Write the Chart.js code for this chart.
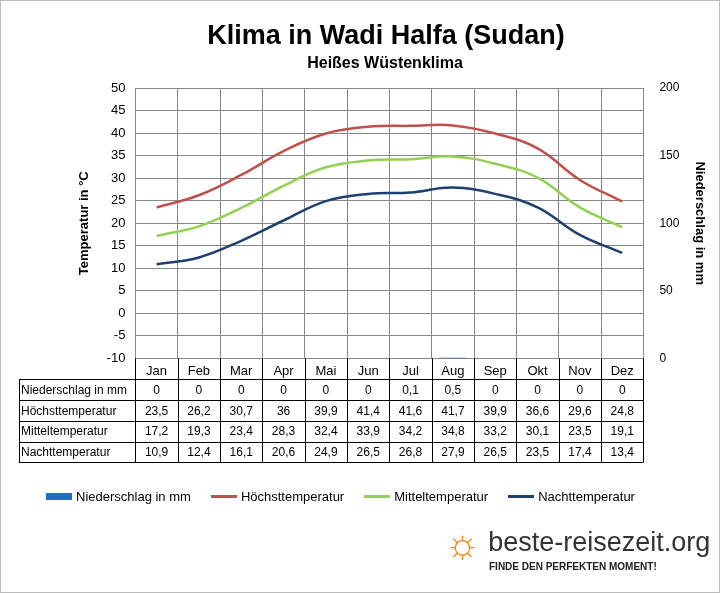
<!DOCTYPE html>
<html><head><meta charset="utf-8">
<script src="https://cdn.jsdelivr.net/npm/chart.js@4"></script>
<style>
body{margin:0;background:#fff;font-family:"Liberation Sans",Arial,sans-serif;}
#wrap{position:relative;width:720px;height:593px;border:1px solid #bbb;box-sizing:border-box;}
canvas{position:absolute;left:0;top:0;}
h1{position:absolute;top:19px;left:0;width:770px;margin:0;text-align:center;font-size:27px;font-weight:bold}
h2{position:absolute;top:53px;left:0;width:768px;margin:0;text-align:center;font-size:16px;font-weight:bold}
#legend{position:absolute;top:488px;left:45px;font-size:13px;display:flex;gap:0}
#legend span{display:inline-flex;align-items:center;margin-right:20px}
#legend i{display:inline-block;width:26px;margin-right:4px}
#logo{position:absolute;left:443px;top:520px;font-size:27px;color:#333;white-space:nowrap}
#slog{position:absolute;left:488px;top:560px;font-size:10px;font-weight:bold;color:#222;white-space:nowrap}
</style></head><body>
<div id="wrap">
<canvas id="c" width="720" height="593"></canvas>
<h1>Klima in Wadi Halfa (Sudan)</h1>
<h2>Heißes Wüstenklima</h2>
<div id="legend">
<span><i style="height:7px;background:#1f6fc5"></i>Niederschlag in mm</span>
<span><i style="height:3px;background:#c0504d"></i>Höchsttemperatur</span>
<span><i style="height:3px;background:#92d050"></i>Mitteltemperatur</span>
<span><i style="height:3px;background:#1f3f6e"></i>Nachttemperatur</span>
</div>
<div id="logo"><span style="color:#f08a24;font-size:40px;vertical-align:-6px">☼</span> beste-reisezeit.org</div>
<div id="slog">FINDE DEN PERFEKTEN MOMENT!</div>
</div>
<script>
const months = ['Jan','Feb','Mar','Apr','Mai','Jun','Jul','Aug','Sep','Okt','Nov','Dez'];
const rain = [0,0,0,0,0,0,0.1,0.5,0,0,0,0];
const tmax = [23.5,26.2,30.7,36,39.9,41.4,41.6,41.7,39.9,36.6,29.6,24.8];
const tmean = [17.2,19.3,23.4,28.3,32.4,33.9,34.2,34.8,33.2,30.1,23.5,19.1];
const tmin = [10.9,12.4,16.1,20.6,24.9,26.5,26.8,27.9,26.5,23.5,17.4,13.4];
const rows = [['Niederschlag in mm',rain],['Höchsttemperatur',tmax],['Mitteltemperatur',tmean],['Nachttemperatur',tmin]];
const fmt = v => String(v).replace('.',',');

const tablePlugin = {
  id:'table',
  afterDraw(chart){
    const ctx = chart.ctx, x = chart.scales.x, a = chart.chartArea;
    const left = 18, rh = 20.7, top = a.bottom + 21;
    const w = (a.right - a.left) / 12;
    ctx.save();
    ctx.strokeStyle = '#000'; ctx.lineWidth = 1;
    ctx.font = '12px "Liberation Sans", Arial'; ctx.fillStyle = '#000';
    for (let i = 0; i <= 12; i++) {
      const xx = Math.round(a.left + i * w) + 0.5;
      ctx.beginPath(); ctx.moveTo(xx, a.bottom); ctx.lineTo(xx, top + rh * 4); ctx.stroke();
    }
    ctx.beginPath(); ctx.moveTo(left + 0.5, top); ctx.lineTo(left + 0.5, top + rh * 4); ctx.stroke();
    for (let r = 0; r <= 4; r++) {
      const yy = Math.round(top + r * rh) + 0.5;
      ctx.beginPath(); ctx.moveTo(left, yy); ctx.lineTo(a.right, yy); ctx.stroke();
    }
    rows.forEach((row, r) => {
      const cy = top + r * rh + rh / 2 + 1;
      ctx.textAlign = 'left'; ctx.textBaseline = 'middle';
      ctx.fillText(row[0], left + 2, cy);
      ctx.textAlign = 'center';
      row[1].forEach((v, i) => ctx.fillText(fmt(v), x.getPixelForValue(i), cy));
    });
    ctx.restore();
  }
};

new Chart(document.getElementById('c'), {
  data: {
    labels: months,
    datasets: [
      {type:'bar', label:'Niederschlag in mm', data: rain, yAxisID:'y1', backgroundColor:'#1f6fc5', barPercentage:0.8, order:4},
      {type:'line', label:'Höchsttemperatur', data: tmax, borderColor:'#c0504d', borderWidth:2.5, pointRadius:0, tension:0.4, yAxisID:'y'},
      {type:'line', label:'Mitteltemperatur', data: tmean, borderColor:'#92d050', borderWidth:2.5, pointRadius:0, tension:0.4, yAxisID:'y'},
      {type:'line', label:'Nachttemperatur', data: tmin, borderColor:'#1f3f6e', borderWidth:2.5, pointRadius:0, tension:0.4, yAxisID:'y'}
    ]
  },
  options: {
    responsive:false, animation:false,
    layout:{padding:{left:72, right:10, top:87, bottom:210}},
    plugins:{legend:{display:false}, tooltip:{enabled:false}},
    scales:{
      x:{offset:true, grid:{offset:true, color:'#888', drawTicks:false}, border:{color:'#888'},
         ticks:{color:'#000', font:{size:13, family:'Liberation Sans'}, padding:5}},
      y:{min:-10, max:50, position:'left', grid:{color:'#888', drawTicks:false}, border:{color:'#888'},
         ticks:{stepSize:5, color:'#000', font:{size:13, family:'Liberation Sans'}, padding:10},
         title:{display:true, text:'Temperatur in °C', color:'#000', font:{size:13, weight:'bold', family:'Liberation Sans'}}},
      y1:{min:0, max:200, position:'right', grid:{display:false}, border:{color:'#888'},
         ticks:{stepSize:50, color:'#000', font:{size:12, family:'Liberation Sans'}, padding:8},
         title:{display:true, text:'Niederschlag in mm', color:'#000', font:{size:13, weight:'bold', family:'Liberation Sans'}}}
    }
  },
  plugins:[tablePlugin]
});
</script>
</body></html>
